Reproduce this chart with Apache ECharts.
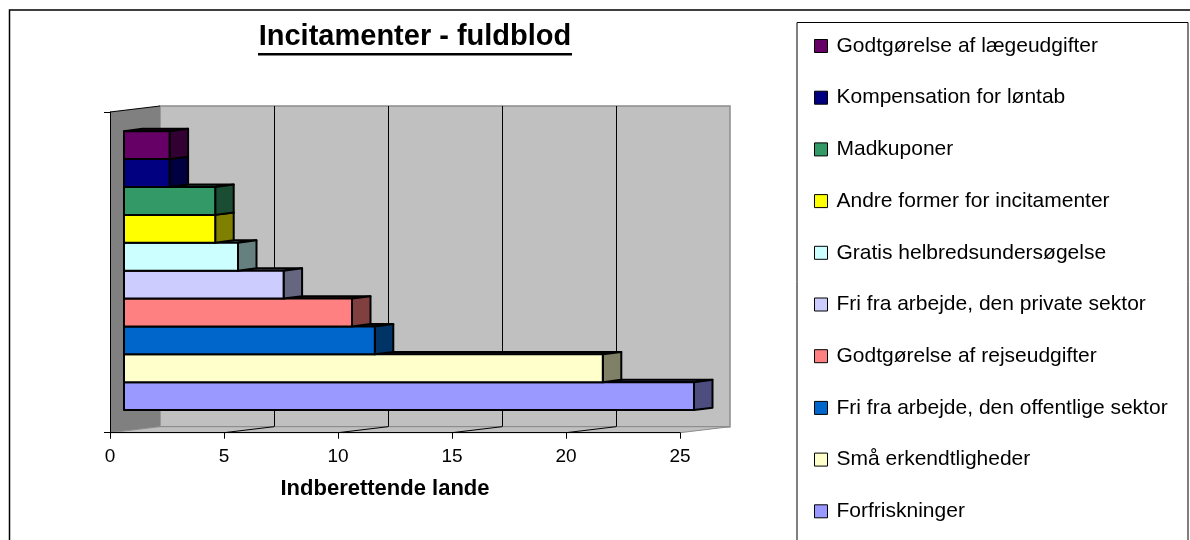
<!DOCTYPE html>
<html>
<head>
<meta charset="utf-8">
<title>Incitamenter - fuldblod</title>
<script src="https://cdn.jsdelivr.net/npm/echarts@6/dist/echarts.min.js"></script>
<style>
html, body { margin: 0; padding: 0; background: #fff; }
#chart { width: 1190px; height: 540px; }
</style>
</head>
<body>
<div id="chart"></div>
<script>
// kategorier, nederste bjælke først
var categories = [
  'Forfriskninger',
  'Små erkendtligheder',
  'Fri fra arbejde, den offentlige sektor',
  'Godtgørelse af rejseudgifter',
  'Fri fra arbejde, den private sektor',
  'Gratis helbredsundersøgelse',
  'Andre former for incitamenter',
  'Madkuponer',
  'Kompensation for løntab',
  'Godtgørelse af lægeudgifter'
];
// antal indberettende lande
var values = [25, 21, 11, 10, 7, 5, 4, 4, 2, 2];
var colors = ['#9999ff', '#ffffcc', '#0066cc', '#ff8080', '#ccccff', '#ccffff', '#ffff00', '#339966', '#000080', '#660066'];
var shadeColors = ['#4d4d80', '#808066', '#003366', '#804040', '#666680', '#668080', '#808000', '#1a4d33', '#000040', '#330033'];
var xTicks = [0, 5, 10, 15, 20, 25];
var legendOrder = categories.slice().reverse();

var FONT = "'Liberation Sans', Arial, sans-serif";
var BOX_DEPTH = [50, -6];     // forskydning mellem forreste plan og bagvæg
var BAR_FRONT = [14, -1.7];   // bjælkernes forside i dybden
var BAR_DEPTH = [18.5, -2.4];
var GAP = 1.5;                // mellemrum som i Excel (150 %)

var chart = echarts.init(document.getElementById('chart'));

// vægge, gulv og gitterlinjer
function renderWalls(params, api) {
  var cs = params.coordSys;
  var x0 = cs.x, x1 = cs.x + cs.width;
  var top = cs.y, bottom = cs.y + cs.height;
  var dx = BOX_DEPTH[0], dy = BOX_DEPTH[1];
  var children = [
    {type: 'polygon', shape: {points: [[x0 + dx, top + dy], [x1 + dx, top + dy], [x1 + dx, bottom + dy], [x0 + dx, bottom + dy]]},
      style: {fill: '#c0c0c0', stroke: '#8c8c8c', lineWidth: 1.5}},
    {type: 'polygon', shape: {points: [[x0, top], [x0 + dx, top + dy], [x0 + dx, bottom + dy], [x0, bottom]]},
      style: {fill: '#808080'}},
    {type: 'polygon', shape: {points: [[x0, bottom], [x0 + dx, bottom + dy], [x1 + dx, bottom + dy], [x1, bottom]]},
      style: {fill: '#c0c0c0', stroke: '#8c8c8c', lineWidth: 1}},
    {type: 'line', shape: {x1: x0, y1: top, x2: x0 + dx, y2: top + dy}, style: {stroke: '#000', lineWidth: 1}}
  ];
  var last = xTicks[xTicks.length - 1];
  xTicks.forEach(function (t) {
    if (t === 0 || t === last) return;
    var x = api.coord([t, 0])[0];
    var xb = Math.round(x + dx) + 0.5;
    children.push({type: 'line', shape: {x1: xb, y1: top + dy, x2: xb, y2: bottom + dy}, style: {stroke: '#000', lineWidth: 1}});
    children.push({type: 'line', shape: {x1: x, y1: bottom, x2: x + dx, y2: bottom + dy}, style: {stroke: '#000', lineWidth: 1}});
  });
  return {type: 'group', children: children};
}

// en 3D-bjælke pr. serie
function renderBar(index) {
  return function (params, api) {
    var start = api.coord([0, 0]);
    var end = api.coord([api.value(0), 0]);
    var band = api.size([0, 1])[1];
    var w = band / (categories.length + GAP);
    var bottom = start[1] + band / 2 - w * GAP / 2 - index * w + BAR_FRONT[1];
    var top = bottom - w;
    var x0 = start[0] + BAR_FRONT[0];
    var x1 = end[0] + BAR_FRONT[0];
    var dx = BAR_DEPTH[0], dy = BAR_DEPTH[1];
    var edge = {stroke: '#000', lineWidth: 2, lineJoin: 'round'};
    return {type: 'group', children: [
      {type: 'polygon', shape: {points: [[x0, top], [x1, top], [x1 + dx, top + dy], [x0 + dx, top + dy]]},
        style: Object.assign({fill: shadeColors[index]}, edge)},
      {type: 'polygon', shape: {points: [[x1, top], [x1 + dx, top + dy], [x1 + dx, bottom + dy], [x1, bottom]]},
        style: Object.assign({fill: shadeColors[index]}, edge)},
      {type: 'rect', shape: {x: x0, y: top, width: x1 - x0, height: w},
        style: Object.assign({fill: colors[index]}, edge)}
    ]};
  };
}

var series = [{
  type: 'custom',
  name: 'vægge',
  renderItem: renderWalls,
  data: [[0, 0]],
  clip: false,
  silent: true,
  z: 1
}];
categories.forEach(function (name, i) {
  series.push({
    type: 'custom',
    name: name,
    renderItem: renderBar(i),
    data: [[values[i], 0]],
    encode: {x: 0, y: 1},
    itemStyle: {color: colors[i]},
    clip: false,
    z: 2
  });
});

var option = {
  animation: false,
  backgroundColor: '#fff',
  textStyle: {fontFamily: FONT, color: '#000'},
  graphic: [
    {type: 'rect', shape: {x: 9.5, y: 10, width: 1300, height: 700}, style: {fill: 'none', stroke: '#000', lineWidth: 1.5}, silent: true},
    {type: 'rect', shape: {x: 797, y: 22.5, width: 391, height: 600}, style: {fill: '#fff', stroke: '#000', lineWidth: 1}, silent: true, z: -1},
    {type: 'text', style: {text: 'Incitamenter - fuldblod', x: 415, y: 36.5, align: 'center', verticalAlign: 'middle',
      font: 'bold 29px ' + FONT, fill: '#000'}, silent: true},
    {type: 'rect', shape: {x: 258, y: 53, width: 314, height: 2.6}, style: {fill: '#000'}, silent: true}
  ],
  legend: {
    data: legendOrder,
    orient: 'vertical',
    left: 814,
    top: 35.5,
    padding: 0,
    itemGap: 30.7,
    itemWidth: 13,
    itemHeight: 13,
    icon: 'rect',
    selectedMode: false,
    itemStyle: {borderColor: '#000', borderWidth: 1},
    textStyle: {fontSize: 21, color: '#000', fontFamily: FONT, lineHeight: 21, padding: [0, 0, 0, 4]}
  },
  grid: {left: 110, top: 112, width: 570, height: 320.7},
  xAxis: {
    type: 'value',
    min: 0,
    max: 25,
    interval: 5,
    z: 5,
    axisLine: {show: true, lineStyle: {color: '#000', width: 1}},
    axisTick: {show: true, length: 6, lineStyle: {color: '#000'}},
    axisLabel: {fontSize: 19, color: '#000', fontFamily: FONT, margin: 15},
    splitLine: {show: false},
    name: 'Indberettende lande',
    nameLocation: 'middle',
    nameGap: 45,
    nameTextStyle: {fontSize: 22, fontWeight: 'bold', color: '#000', fontFamily: FONT, padding: [0, 20, 0, 0]}
  },
  yAxis: {
    type: 'category',
    data: ['Incitamenter'],
    z: 5,
    axisLine: {show: true, lineStyle: {color: '#000', width: 1}},
    axisTick: {show: true, length: 6, lineStyle: {color: '#000'}},
    axisLabel: {show: false},
    splitLine: {show: false}
  },
  series: series
};

chart.setOption(option);
</script>
</body>
</html>
